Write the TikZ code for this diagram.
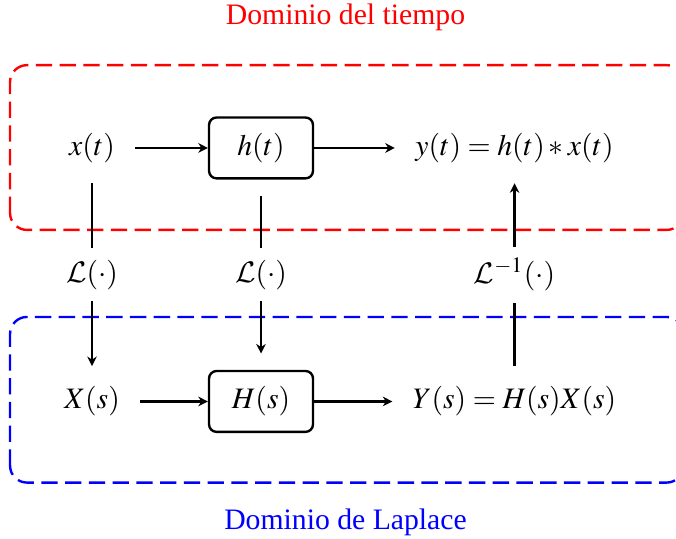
\documentclass[tikz,border=0pt]{standalone}
\usepackage{mathptmx}
\DeclareMathAlphabet{\mathcal}{OMS}{cmsy}{m}{n}
\usepackage{fontspec}
\setmainfont{Liberation Serif}
\usetikzlibrary{arrows.meta,positioning}

\begin{document}
\begin{tikzpicture}[
  >={Stealth[length=3.2pt,width=3.2pt,inset=1pt]}, thick,
  sig/.style={inner sep=6.5pt},
  blk/.style={draw, rounded corners=2.5pt, minimum width=12.3mm, minimum height=7.2mm},
  lbl/.style={inner sep=3.5pt},
  dom/.style={dash pattern=on 5.5pt off 2.5pt, rounded corners=2mm}]
\useasboundingbox (-1.089,-4.627) rectangle (6.911,1.751);
% dominios
\draw[dom, red] (-0.97,-0.97) rectangle (7,0.98);
\draw[dom, blue] (-0.97,-3.96) rectangle (7,-2);
\node[red] (tdom) at (3,1.54) {Dominio del tiempo};
\node[blue] (sdom) at (3,-4.43) {Dominio de Laplace};
% tiempo
\node[sig] (xt) at (0,0) {$x(t)$};
\node[blk] (ht) at (2,0) {$h(t)$};
\node[sig] (yt) at (5,0) {$y(t)=h(t)*x(t)$};
% Laplace
\node[sig] (Xs) at (0,-3) {$X(s)$};
\node[blk] (Hs) at (2,-3) {$H(s)$};
\node[sig] (Ys) at (5,-3) {$Y(s)=H(s)X(s)$};
% transformadas
\node[lbl] (lx) at (0,-1.5) {$\mathcal{L}(\cdot)$};
\node[lbl] (lh) at (2,-1.5) {$\mathcal{L}(\cdot)$};
\node[lbl] (ly) at (5,-1.5) {$\mathcal{L}^{-1}(\cdot)$};
\draw[->] (xt)--(ht); \draw[->] (ht)--(yt);
\draw[->] (Xs)--(Hs); \draw[->] (Hs)--(Ys);
\draw (xt)--(lx); \draw[->] (lx)--(Xs);
\draw[shorten <=5.5pt] (ht)--(lh); \draw[->, shorten >=5.5pt] (lh)--(Hs);
\draw (Ys)--(ly); \draw[->] (ly)--(yt);
\end{tikzpicture}
\end{document}
